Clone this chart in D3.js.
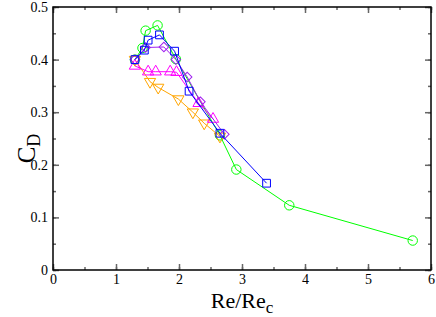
<!DOCTYPE html>
<html>
<head>
<meta charset="utf-8">
<script src="https://cdn.jsdelivr.net/npm/d3@7"></script>
<style>
  html, body { margin: 0; padding: 0; background: #fff; }
</style>
</head>
<body>
<div id="chart"></div>
<script>
// Data: Re/Re_c against C_D
const greenX  = [1.30, 1.42, 1.47, 1.66, 1.95, 2.65, 2.91, 3.75, 5.71];
const greenY  = [0.400, 0.422, 0.455, 0.465, 0.401, 0.256, 0.191, 0.123, 0.056];
const blueX   = [1.30, 1.45, 1.51, 1.69, 1.93, 2.16, 2.65, 3.39];
const blueY   = [0.400, 0.418, 0.437, 0.447, 0.416, 0.340, 0.260, 0.165];
const violetX = [1.30, 1.47, 1.76, 1.95, 2.13, 2.34, 2.72];
const violetY = [0.400, 0.423, 0.424, 0.400, 0.367, 0.320, 0.258];
const magentaX = [1.30, 1.51, 1.63, 1.86, 1.96, 2.31, 2.54];
const magentaY = [0.388, 0.377, 0.377, 0.377, 0.376, 0.317, 0.287];
const orangeX = [1.30, 1.54, 1.67, 1.99, 2.22, 2.40, 2.65];
const orangeY = [0.400, 0.358, 0.347, 0.325, 0.300, 0.279, 0.254];

const xTicks = [0, 1, 2, 3, 4, 5, 6];
const yTicks = [0, 0.1, 0.2, 0.3, 0.4, 0.5];

const series = [
  { name: "green", xs: greenX, ys: greenY, color: "#00ff00", marker: "circle" },
  { name: "orange", xs: orangeX, ys: orangeY, color: "#ffa500", marker: "down" },
  { name: "magenta", xs: magentaX, ys: magentaY, color: "#ff00ff", marker: "up" },
  { name: "violet", xs: violetX, ys: violetY, color: "#a020f0", marker: "diamond" },
  { name: "blue", xs: blueX, ys: blueY, color: "#0000ff", marker: "square" }
];

const FONT = "Liberation Serif";

const W = 436, H = 317;
const margin = { top: 7, right: 5, bottom: 47, left: 53 };
const width = W - margin.left - margin.right;
const height = H - margin.top - margin.bottom;

const svg = d3.select("#chart").append("svg")
    .attr("width", W)
    .attr("height", H);

const g = svg.append("g")
    .attr("transform", `translate(${margin.left},${margin.top})`);

const x = d3.scaleLinear().domain([0, 6]).range([0, width]);
const y = d3.scaleLinear().domain([0, 0.5]).range([height, 0]);

// frame ticks on all four sides, pointing inward
const minorX = d3.range(0, 6.01, 0.5);
const minorY = d3.range(0, 0.501, 0.05);

function tickAxis(axis, vals, size) {
  return axis.tickValues(vals).tickSize(-size).tickFormat("");
}

g.append("g").attr("class", "ax")
    .attr("transform", `translate(0,${height})`)
    .call(tickAxis(d3.axisBottom(x), minorX, 3));
g.append("g").attr("class", "ax")
    .attr("transform", `translate(0,${height})`)
    .call(d3.axisBottom(x).tickValues(xTicks).tickSize(-6).tickPadding(4)
      .tickFormat(d3.format("d")));
g.append("g").attr("class", "ax")
    .call(tickAxis(d3.axisTop(x), minorX, 3));
g.append("g").attr("class", "ax")
    .call(tickAxis(d3.axisTop(x), xTicks, 6));

g.append("g").attr("class", "ax")
    .call(tickAxis(d3.axisLeft(y), minorY, 3));
g.append("g").attr("class", "ax")
    .call(d3.axisLeft(y).tickValues(yTicks).tickSize(-6).tickPadding(5)
      .tickFormat(d => d === 0 ? "0" : d3.format(".1f")(d)));
g.append("g").attr("class", "ax")
    .attr("transform", `translate(${width},0)`)
    .call(tickAxis(d3.axisRight(y), minorY, 3));
g.append("g").attr("class", "ax")
    .attr("transform", `translate(${width},0)`)
    .call(tickAxis(d3.axisRight(y), yTicks, 6));

g.selectAll(".ax").attr("font-family", FONT).attr("font-size", 14);
g.selectAll(".ax .domain").remove();
g.selectAll(".ax line").attr("stroke", "#666").attr("stroke-width", 1.5);
g.selectAll(".ax text").attr("fill", "#000");

// frame box
g.append("rect")
    .attr("x", 0).attr("y", 0)
    .attr("width", width).attr("height", height)
    .attr("fill", "none")
    .attr("stroke", "#000")
    .attr("stroke-width", 1.5);

// lines and markers
const line = d3.line().x(d => x(d[0])).y(d => y(d[1]));

series.forEach(s => {
  const pts = s.xs.map((v, i) => [v, s.ys[i]]);
  g.append("path")
      .datum(pts)
      .attr("d", line)
      .attr("fill", "none")
      .attr("stroke", s.color)
      .attr("stroke-width", 1);

  const sym = {
    circle: d3.symbol().type(d3.symbolCircle).size(70),
    square: d3.symbol().type(d3.symbolSquare).size(60),
    diamond: d3.symbol().type(d3.symbolSquare).size(45),
    up: d3.symbol().type(d3.symbolTriangle).size(55),
    down: d3.symbol().type(d3.symbolTriangle).size(55)
  }[s.marker];

  const rot = s.marker === "diamond" ? 45 : s.marker === "down" ? 180 : 0;

  g.selectAll(null)
      .data(pts)
      .enter()
      .append("path")
      .attr("d", sym)
      .attr("transform", d => `translate(${x(d[0])},${y(d[1])}) rotate(${rot})`)
      .attr("fill", "none")
      .attr("stroke", s.color)
      .attr("stroke-width", 1);
});

// axis labels
svg.append("text")
    .attr("x", margin.left + width / 2)
    .attr("y", 308)
    .attr("text-anchor", "middle")
    .attr("font-family", FONT)
    .attr("font-size", 22)
    .text("Re/Re")
  .append("tspan")
    .attr("dy", 5)
    .attr("font-size", 17)
    .text("c");

svg.append("text")
    .attr("transform", `translate(35,${margin.top + height / 2 + 10}) rotate(-90)`)
    .attr("text-anchor", "middle")
    .attr("font-family", FONT)
    .attr("font-size", 25)
    .text("C")
  .append("tspan")
    .attr("dy", 5)
    .attr("font-size", 18)
    .text("D");
</script>
</body>
</html>
